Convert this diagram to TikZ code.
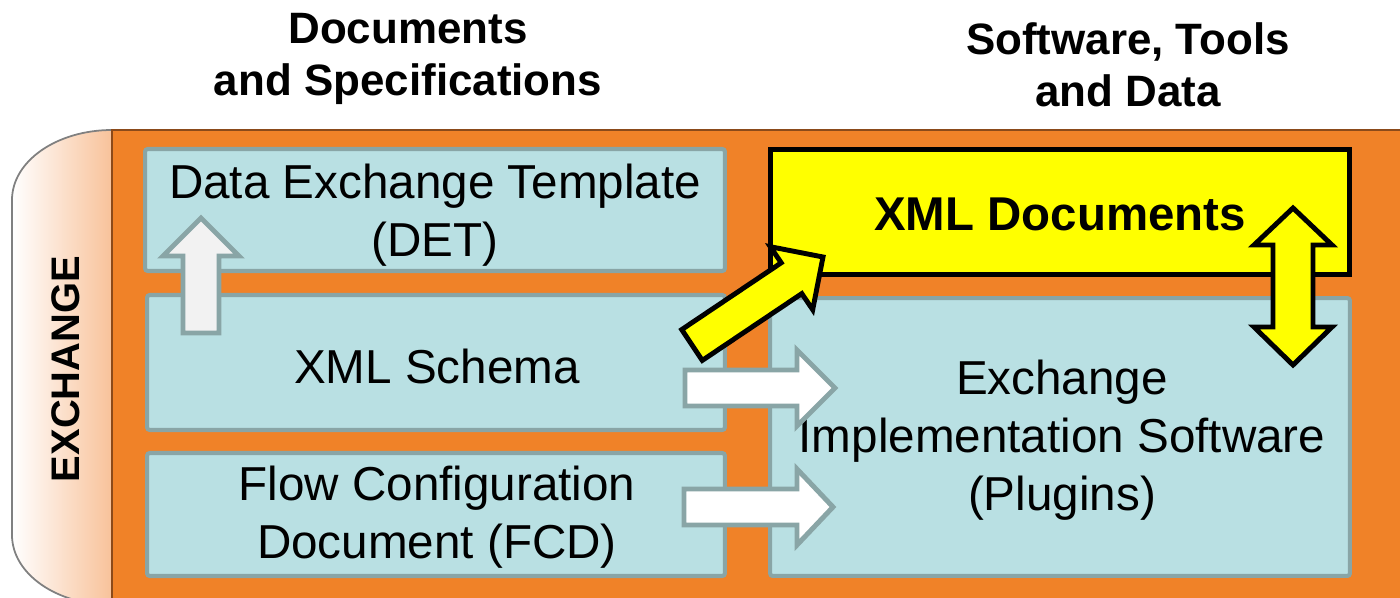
\documentclass[tikz,border=0pt]{standalone}
\usepackage{fontspec}
\setmainfont{Liberation Sans}
\definecolor{orng}{HTML}{F08228}
\definecolor{lblue}{HTML}{B9E0E3}
\definecolor{bgray}{HTML}{89A5A6}
\definecolor{tabor}{HTML}{F8C29A}
\definecolor{darkline}{HTML}{8B4A1A}
\definecolor{upfill}{HTML}{F2F2F2}
\definecolor{yel}{HTML}{FFFF00}
\tikzset{
  box/.style={draw=bgray, fill=lblue, line width=2.3pt, rounded corners=1.5pt, inner sep=0pt},
  ybox/.style={draw=black, fill=yel, line width=2.8pt, inner sep=0pt},
  lbl/.style={font=\fontsize{27.1}{33}\selectfont, align=center, inner sep=0pt},
  blbl/.style={font=\bfseries\fontsize{27}{33}\selectfont, align=center, inner sep=0pt},
  hdr/.style={font=\bfseries\fontsize{25}{29.5}\selectfont, align=center, inner sep=0pt},
  warrow/.style={draw=bgray, fill=white, line width=2.8pt, line join=miter},
  uparrow/.style={draw=bgray, fill=upfill, line width=2.8pt, line join=miter},
  yarrow/.style={draw=black, fill=yel, line width=2.8pt, line join=miter},
}
\begin{document}
\begin{tikzpicture}[x=0.02cm, y=-0.02cm]
\useasboundingbox (0,0) rectangle (1400,598);
\clip (0,0) rectangle (1400,598);
\fill[white] (0,0) rectangle (1400,598);

% headers
\node[hdr] (h1) at (408,59) {Documents\\and Specifications};
\node[hdr] (h2) at (1128,65) {Software, Tools\\and Data};

% left tab
\shade[left color=white, right color=tabor, draw=gray, line width=1pt]
  (112,130) .. controls (57,130) and (12,161) .. (12,200) -- (12,535)
  .. controls (12,574) and (57,605) .. (112,605) -- cycle;
\node[font=\bfseries\fontsize{22.7}{27}\selectfont, rotate=90, inner sep=0pt] (ex) at (66,369) {EXCHANGE};

% orange band
\fill[orng] (112,130) rectangle (1400,610);
\draw[darkline, line width=1.2pt] (112,610) -- (112,130) -- (1400,130);

% boxes
\node[box, minimum width=11.6cm, minimum height=2.44cm] (det) at (435,210) {};
\node[box, minimum width=11.56cm, minimum height=2.7cm] (schema) at (436,362.5) {};
\node[box, minimum width=11.56cm, minimum height=2.46cm] (fcd) at (436,514.5) {};
\node[box, minimum width=11.6cm, minimum height=5.56cm] (impl) at (1060,437) {};
\node[ybox, minimum width=11.58cm, minimum height=2.5cm] (xmldoc) at (1060,212) {};

% texts
\node[lbl] (tdet) at (435,215) {Data Exchange Template\\(DET)};
\node[lbl] (tschema) at (437,366) {XML Schema};
\node[lbl] (tfcd) at (437,517) {Flow Configuration\\Document (FCD)};
\node[lbl] (timpl) at (1062,440) {Exchange\\Implementation Software\\(Plugins)};
\node[blbl] (txml) at (1060,214) {XML Documents};

% up arrow (schema -> DET)
\draw[uparrow] (183,333) -- (183,256) -- (163,256) -- (201,218) -- (239,256)
  -- (219,256) -- (219,333) -- cycle;

% right arrows
\draw[warrow] (685,370) -- (797,370) -- (797,350) -- (835,388) -- (797,426)
  -- (797,406) -- (685,406) -- cycle;
\draw[warrow] (684,489) -- (797,489) -- (797,469) -- (833,507) -- (797,545)
  -- (797,525) -- (684,525) -- cycle;

% diagonal yellow arrow
\draw[yarrow] (681.7,329.6) -- (781.2,262.8) -- (770.3,246.7) -- (823,257)
  -- (812.7,309.7) -- (801.8,293.6) -- (702.3,360.4) -- cycle;

% double yellow arrow
\draw[yarrow] (1293,208) -- (1332,245) -- (1313,245) -- (1313,327) -- (1332,327)
  -- (1293,365) -- (1254,327) -- (1273,327) -- (1273,245) -- (1254,245) -- cycle;
\end{tikzpicture}
\end{document}
